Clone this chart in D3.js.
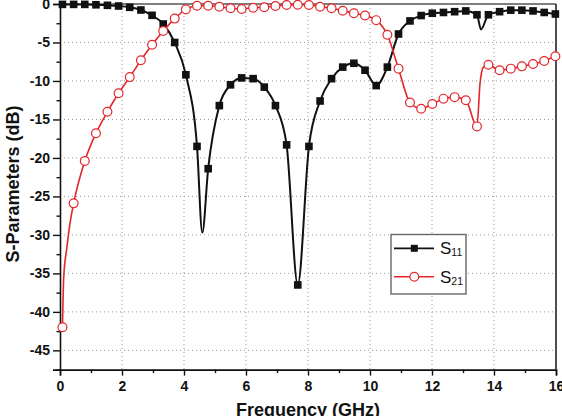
<!DOCTYPE html>
<html><head><meta charset="utf-8">
<script src="https://cdn.jsdelivr.net/npm/d3@7/dist/d3.min.js"></script>
<style>body{margin:0;background:#fff}svg{display:block}text{font-family:"Liberation Sans",Arial,sans-serif}</style>
</head><body><svg id="c" width="562" height="416"></svg>
<script>
// ---- data ----
const freq = [0.08,0.44,0.80,1.16,1.53,1.89,2.25,2.61,2.97,3.33,3.70,4.06,4.42,4.78,5.14,5.50,5.86,6.23,6.59,6.95,7.31,7.67,8.03,8.39,8.76,9.12,9.48,9.84,10.20,10.56,10.92,11.29,11.65,12.01,12.37,12.73,13.09,13.45,13.82,14.18,14.54,14.90,15.26,15.62,15.98];
const s11 = [-0.05,-0.05,-0.05,-0.1,-0.17,-0.26,-0.43,-0.78,-1.47,-2.6,-5.0,-9.2,-18.5,-21.4,-13.2,-10.5,-9.6,-9.7,-10.8,-13.2,-18.3,-36.5,-18.5,-12.6,-9.7,-8.2,-7.7,-8.6,-10.6,-8.2,-3.9,-2.2,-1.5,-1.2,-1.1,-1.0,-0.9,-1.4,-1.4,-1.0,-0.8,-0.8,-0.9,-1.1,-1.3];
const s21 = [-42.0,-25.9,-20.4,-16.8,-14.0,-11.6,-9.5,-7.3,-5.3,-3.5,-1.9,-0.7,-0.22,-0.22,-0.35,-0.56,-0.65,-0.48,-0.43,-0.26,-0.13,-0.09,-0.13,-0.35,-0.56,-0.87,-1.2,-1.5,-2.1,-4.0,-8.4,-12.8,-13.6,-13.0,-12.3,-12.1,-12.5,-15.9,-7.9,-8.6,-8.4,-8.1,-7.8,-7.4,-6.8];
// extra line-only points (curve features between markers)
const s11ExtraF = [4.59, 13.58];
const s11ExtraV = [-29.7, -3.3];
const s21ExtraF = [0.12, 0.22, 0.33, 13.55, 13.66];
const s21ExtraV = [-35.5, -31.7, -28.3, -10.3, -8.2];
const xTicks = [0,2,4,6,8,10,12,14,16];
const xMinor = [1,3,5,7,9,11,13,15];
const yTicks = [0,-5,-10,-15,-20,-25,-30,-35,-40,-45];
const yMinor = [-2.5,-7.5,-12.5,-17.5,-22.5,-27.5,-32.5,-37.5,-42.5,-47.5];
const seriesNames = ["11","21"];

const svg = d3.select("#c");
const L = 60, R = 556, T = 4, B = 369.6;
const x = d3.scaleLinear().domain([0,16]).range([L,R]);
const y = d3.scaleLinear().domain([-47.5,0]).range([B,T]);
const RED = "#e3262b";
const fmt = d => String(d);

// grid
const g = svg.append("g");
g.selectAll(".gx").data(xTicks.filter(d=>d>0&&d<16)).join("line")
  .attr("x1",d=>x(d)).attr("x2",d=>x(d)).attr("y1",T).attr("y2",B)
  .attr("stroke","#999").attr("stroke-width",1).attr("stroke-dasharray","1,3");
g.selectAll(".gy").data(yTicks.filter(d=>d<0)).join("line")
  .attr("x1",L).attr("x2",R).attr("y1",d=>y(d)).attr("y2",d=>y(d))
  .attr("stroke","#999").attr("stroke-width",1).attr("stroke-dasharray","1,3");

// frame top/right
svg.append("line").attr("x1",L).attr("x2",R).attr("y1",T).attr("y2",T).attr("stroke","#555").attr("stroke-width",1.6);
svg.append("line").attr("x1",R).attr("x2",R).attr("y1",T).attr("y2",B).attr("stroke","#222").attr("stroke-width",1.6);

// axes
svg.append("g").attr("transform",`translate(0,${B})`)
  .call(d3.axisBottom(x).tickValues(xTicks).tickSize(6).tickPadding(5).tickFormat(fmt));
svg.append("g").attr("transform",`translate(0,${B})`)
  .call(d3.axisBottom(x).tickValues(xMinor).tickSize(3.5).tickFormat(""))
  .select(".domain").remove();
svg.append("g").attr("transform",`translate(${L},0)`)
  .call(d3.axisLeft(y).tickValues(yTicks).tickSize(7).tickPadding(3).tickFormat(fmt));
svg.append("g").attr("transform",`translate(${L},0)`)
  .call(d3.axisLeft(y).tickValues(yMinor).tickSize(3.5).tickFormat(""))
  .select(".domain").remove();
svg.selectAll(".domain").attr("stroke","#111").attr("stroke-width",1.6);
svg.selectAll(".tick line").attr("stroke","#111").attr("stroke-width",1.4);
svg.selectAll(".tick text").attr("font-size",14).style("font-weight","bold").attr("fill","#111")
  .attr("font-family","Liberation Sans, Arial, sans-serif");

// axis titles
svg.append("text").attr("transform","translate(18.5,184) rotate(-90)").attr("text-anchor","middle")
  .attr("font-size",18).style("font-weight","bold").attr("fill","#111").text("S-Parameters (dB)");
svg.append("text").attr("x",308).attr("y",416).attr("text-anchor","middle")
  .attr("font-size",18).style("font-weight","bold").attr("fill","#111").text("Frequency (GHz)");

// lines
function merged(vals, ef, ev){
  const pts = freq.map((f,i)=>[f,vals[i]]);
  ef.forEach((f,i)=>pts.push([f,ev[i]]));
  return pts.sort((a,b)=>a[0]-b[0]);
}
const line = d3.line().x(d=>x(d[0])).y(d=>y(d[1])).curve(d3.curveMonotoneX);
svg.append("path").attr("d",line(merged(s11,s11ExtraF,s11ExtraV)))
  .attr("fill","none").attr("stroke","#111").attr("stroke-width",2);
svg.append("g").selectAll("rect").data(freq.map((f,i)=>[f,s11[i]])).join("rect")
  .attr("x",d=>x(d[0])-3.8).attr("y",d=>y(d[1])-3.8).attr("width",7.6).attr("height",7.6).attr("fill","#111");
svg.append("path").attr("d",line(merged(s21,s21ExtraF,s21ExtraV)))
  .attr("fill","none").attr("stroke",RED).attr("stroke-width",1.6);
svg.append("g").selectAll("circle").data(freq.map((f,i)=>[f,s21[i]])).join("circle")
  .attr("cx",d=>x(d[0])).attr("cy",d=>y(d[1])).attr("r",4.4)
  .attr("fill","#fff").attr("stroke",RED).attr("stroke-width",1.2);

// legend
const lg = svg.append("g");
lg.append("rect").attr("x",391).attr("y",234.5).attr("width",75).attr("height",59.5)
  .attr("fill","#fff").attr("stroke","#666").attr("stroke-width",1.4);
const ly = [248.3, 276.7];
lg.append("line").attr("x1",394).attr("x2",434).attr("y1",ly[0]).attr("y2",ly[0]).attr("stroke","#111").attr("stroke-width",1.8);
lg.append("rect").attr("x",414.3-3.5).attr("y",ly[0]-3.5).attr("width",7).attr("height",7).attr("fill","#111");
lg.append("line").attr("x1",394).attr("x2",434).attr("y1",ly[1]).attr("y2",ly[1]).attr("stroke",RED).attr("stroke-width",1.6);
lg.append("circle").attr("cx",414.3).attr("cy",ly[1]).attr("r",4.4).attr("fill","#fff").attr("stroke",RED).attr("stroke-width",1.2);
seriesNames.forEach((n,i)=>{
  const t = lg.append("text").attr("x",440).attr("y",ly[i]+6).attr("fill","#111")
    .style("font-weight","normal").attr("font-size",17);
  t.append("tspan").text("S");
  t.append("tspan").attr("font-size",10.5).attr("dy",2).text(n);
});
</script></body></html>
